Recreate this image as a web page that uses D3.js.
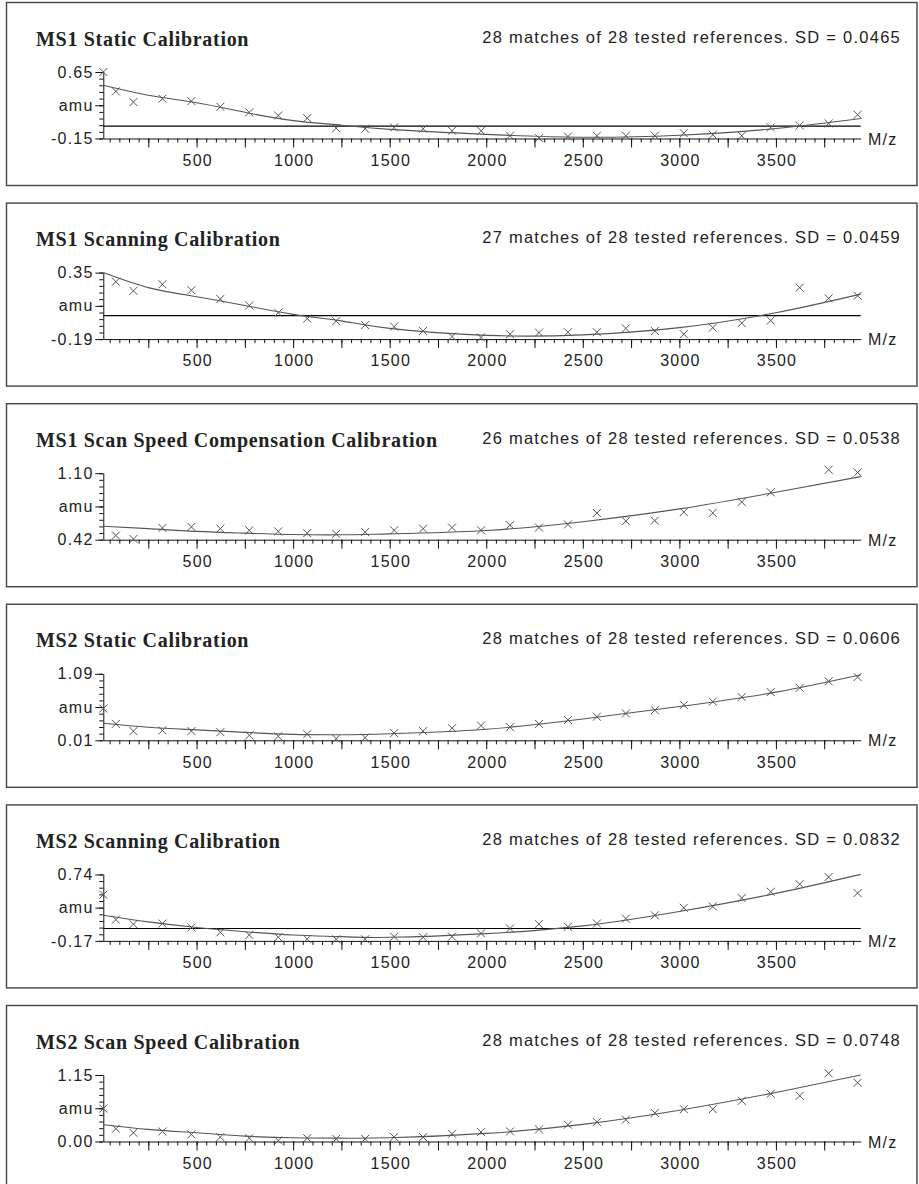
<!DOCTYPE html>
<html><head><meta charset="utf-8">
<script src="https://cdn.jsdelivr.net/npm/d3@7"></script>
<style>body{margin:0;background:#fff}</style>
</head><body><svg id="c" width="919" height="1184"></svg>
<script>
const titles = ["MS1 Static Calibration","MS1 Scanning Calibration","MS1 Scan Speed Compensation Calibration","MS2 Static Calibration","MS2 Scanning Calibration","MS2 Scan Speed Calibration"];
const stats = ["28 matches of 28 tested references. SD = 0.0465","27 matches of 28 tested references. SD = 0.0459","26 matches of 28 tested references. SD = 0.0538","28 matches of 28 tested references. SD = 0.0606","28 matches of 28 tested references. SD = 0.0832","28 matches of 28 tested references. SD = 0.0748"];
const yTopLabels = ["0.65","0.35","1.10","1.09","0.74","1.15"];
const yBottomLabels = ["-0.15","-0.19","0.42","0.01","-0.17","0.00"];
const yMidLabel = "amu";
const xAxisLabel = "M/z";
const xTickLabels = [500,1000,1500,2000,2500,3000,3500];
const refMz = [17,82,173,323,473,623,773,923,1073,1223,1373,1523,1673,1823,1973,2123,2273,2423,2573,2723,2873,3023,3173,3323,3473,3623,3773,3923];
const curveMz = [17,250,500,750,1000,1250,1500,2000,2500,3000,3500,3939];

const ms1Static = [0.65,0.417,0.288,0.329,0.30,0.232,0.164,0.127,0.095,-0.026,-0.033,-0.017,-0.033,-0.057,-0.057,-0.117,-0.146,-0.126,-0.117,-0.117,-0.117,-0.086,-0.105,-0.117,-0.017,0.007,0.031,0.136];
const ms1Scanning = [null,0.276,0.202,0.255,0.207,0.136,0.083,0.024,-0.023,-0.044,-0.076,-0.089,-0.124,-0.169,-0.177,-0.150,-0.137,-0.134,-0.134,-0.103,-0.124,-0.150,-0.097,-0.060,-0.039,0.228,0.141,0.162];
const ms1ScanSpeed = [null,0.463,0.427,0.540,0.551,0.533,0.516,0.505,0.487,0.480,0.498,0.516,0.533,0.544,0.516,0.569,0.544,0.576,0.693,0.611,0.615,0.703,0.693,0.806,0.905,null,1.135,1.107];
const ms2Static = [0.526,0.276,0.159,0.170,0.159,0.143,0.090,0.074,0.111,0.037,0.053,0.127,0.159,0.207,0.249,0.223,0.276,0.340,0.393,0.446,0.499,0.585,0.638,0.712,0.792,0.861,0.968,1.037];
const ms2Scanning = [0.462,0.121,0.059,0.068,0.014,-0.053,-0.089,-0.121,-0.143,-0.148,-0.148,-0.112,-0.121,-0.112,-0.067,0.0,0.059,0.023,0.068,0.135,0.180,0.283,0.301,0.417,0.502,0.606,0.704,0.485];
const ms2ScanSpeed = [0.569,0.221,0.151,0.174,0.122,0.076,0.058,0.017,0.058,0.046,0.046,0.076,0.076,0.134,0.163,0.174,0.209,0.290,0.337,0.378,0.494,0.558,0.558,0.703,0.825,0.790,1.179,1.016];

const ms1StaticFit = [0.49,0.37,0.28,0.165,0.065,0.01,-0.04,-0.10,-0.135,-0.11,-0.03,0.09];
const ms1ScanningFit = [0.35,0.228,0.154,0.083,0.011,-0.042,-0.103,-0.16,-0.156,-0.097,0.024,0.175];
const ms1ScanSpeedFit = [0.558,0.533,0.505,0.487,0.473,0.470,0.480,0.514,0.604,0.735,0.905,1.065];
const ms2StaticFit = [0.287,0.223,0.180,0.138,0.106,0.100,0.116,0.190,0.356,0.558,0.792,1.074];
const ms2ScanningFit = [0.180,0.090,0.014,-0.044,-0.089,-0.112,-0.121,-0.071,0.036,0.233,0.480,0.74];
const ms2ScanSpeedFit = [0.290,0.209,0.151,0.093,0.064,0.058,0.064,0.14,0.296,0.540,0.848,1.15];

const seriesList = [ms1Static, ms1Scanning, ms1ScanSpeed, ms2Static, ms2Scanning, ms2ScanSpeed];
const fitList = [ms1StaticFit, ms1ScanningFit, ms1ScanSpeedFit, ms2StaticFit, ms2ScanningFit, ms2ScanSpeedFit];

const svg = d3.select("#c");
const tickFont = "'Liberation Sans', Arial, sans-serif";
const markColor = "#555";

titles.forEach((title, i) => {
  const top = 2.5 + i * 200.6;
  const g = svg.append("g").attr("transform", `translate(0,${top})`);
  g.append("rect").attr("x", 6.5).attr("y", 0).attr("width", 910.5).attr("height", 183)
    .attr("fill", "none").attr("stroke", "#444").attr("stroke-width", 1.4);

  const yAxisTop = 69.5, yAxisBottom = 136;
  const x = d3.scaleLinear().domain([17, 3939]).range([103.3, 860.7]);
  const yMin = +yBottomLabels[i], yMax = +yTopLabels[i];
  const y = d3.scaleLinear().domain([yMin, yMax]).range([yAxisBottom, yAxisTop]);

  // title & stats
  g.append("text").attr("x", 36).attr("y", 43).text(title)
    .attr("font-family", "'Liberation Serif', 'Times New Roman', serif").attr("font-weight", "bold")
    .attr("font-size", 20).attr("letter-spacing", "0.7px").attr("fill", "#222");
  g.append("text").attr("x", 901).attr("y", 40).attr("text-anchor", "end").text(stats[i])
    .attr("font-family", tickFont).attr("font-size", 16.5).attr("letter-spacing", "1.25px").attr("fill", "#222");

  // zero line
  if (yMin < 0 && yMax > 0) {
    g.append("line").attr("x1", x.range()[0]).attr("x2", x.range()[1])
      .attr("y1", y(0)).attr("y2", y(0)).attr("stroke", "#000").attr("stroke-width", 1.2);
  }

  // x axis
  const xMinor = g.append("g").attr("transform", `translate(0,${yAxisBottom})`)
    .call(d3.axisBottom(x).tickValues(d3.range(50, 3901, 50)).tickSize(4).tickSizeOuter(0).tickFormat(""));
  const xMajor = g.append("g").attr("transform", `translate(0,${yAxisBottom})`)
    .call(d3.axisBottom(x).tickValues(d3.range(250, 3901, 250)).tickSize(9).tickSizeOuter(0)
      .tickFormat(d => xTickLabels.includes(d) ? String(d) : "").tickPadding(7));
  xMajor.select(".domain").remove();
  [xMinor, xMajor].forEach(a => {
    a.selectAll("line").attr("stroke", "#111");
    a.select(".domain").attr("stroke", "#111");
  });
  xMajor.selectAll("text").attr("font-family", tickFont).attr("font-size", 16)
    .attr("letter-spacing", "1.2px").attr("fill", "#222").attr("dx", "0.6px");
  g.append("text").attr("x", 868).attr("y", yAxisBottom + 6).text(xAxisLabel)
    .attr("font-family", tickFont).attr("font-size", 16).attr("letter-spacing", "1.2px").attr("fill", "#222");

  // y axis
  const yMinor = g.append("g").attr("transform", `translate(${x.range()[0]},0)`)
    .call(d3.axisLeft(y).tickValues(d3.range(11).map(k => yMin + k * (yMax - yMin) / 10))
      .tickSize(4).tickSizeOuter(0).tickFormat(""));
  const mid = (yMin + yMax) / 2;
  const yMajor = g.append("g").attr("transform", `translate(${x.range()[0]},0)`)
    .call(d3.axisLeft(y).tickValues([yMin, mid, yMax]).tickSize(8).tickSizeOuter(0).tickPadding(3)
      .tickFormat(d => d === yMin ? yBottomLabels[i] : d === yMax ? yTopLabels[i] : yMidLabel));
  yMajor.select(".domain").remove();
  [yMinor, yMajor].forEach(a => {
    a.selectAll("line").attr("stroke", "#111");
    a.select(".domain").attr("stroke", "#111");
  });
  yMajor.selectAll("text").attr("font-family", tickFont).attr("font-size", 16)
    .attr("letter-spacing", "1.2px").attr("fill", "#222").attr("dx", "1.2px");

  // fit curve
  const fit = fitList[i];
  const line = d3.line().x((d, k) => x(curveMz[k])).y(d => y(d)).curve(d3.curveNatural);
  g.append("path").attr("d", line(fit)).attr("fill", "none").attr("stroke", markColor).attr("stroke-width", 1.1);

  // markers
  const pts = seriesList[i].map((v, k) => ({mz: refMz[k], v})).filter(d => d.v !== null);
  g.selectAll("path.mk").data(pts).enter().append("path").attr("class", "mk")
    .attr("transform", d => `translate(${x(d.mz)},${y(d.v)})`)
    .attr("d", "M-4,-4L4,4M-4,4L4,-4").attr("stroke", markColor).attr("stroke-width", 1).attr("fill", "none");
});
</script>
</body></html>
